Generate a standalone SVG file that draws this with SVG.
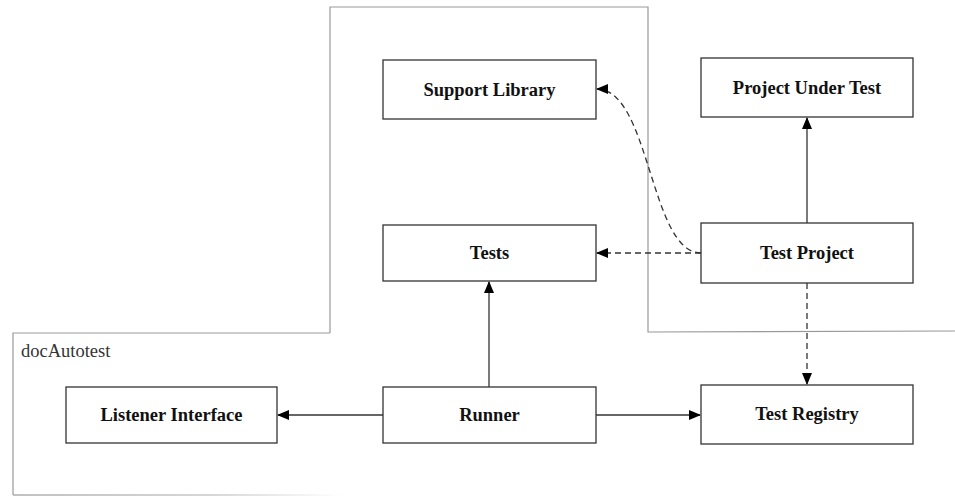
<svg xmlns="http://www.w3.org/2000/svg" width="955" height="496" viewBox="0 0 955 496">
<style>
.box{fill:#fff;stroke:#333;stroke-width:1.3}
.lbl{font-family:"Liberation Serif","Times New Roman",serif;font-weight:bold;font-size:18.5px;fill:#111;text-anchor:middle}
.edge{fill:none;stroke:#333;stroke-width:1.3}
.dash{stroke-dasharray:6,4}
.cl{fill:none;stroke:#999;stroke-width:1.2}
</style>
<defs>
<marker id="ah" markerWidth="12" markerHeight="10" refX="11" refY="5" orient="auto" markerUnits="userSpaceOnUse">
<path d="M0,0 L12,5 L0,10 Z" fill="#000"/>
</marker>
<linearGradient id="fade" x1="0" y1="0" x2="1" y2="0">
<stop offset="0" stop-color="#999"/>
<stop offset="0.6" stop-color="#bbb"/>
<stop offset="1" stop-color="#fff"/>
</linearGradient>
</defs>
<g id="cluster">
<polyline class="cl" points="330,333 330,7 648,7 648,332 955,331"/>
<polyline class="cl" points="330,333 13,333 13,495"/>
<rect x="13" y="494.4" width="330" height="1.2" fill="url(#fade)"/>
<text x="21" y="357" font-family="Liberation Serif, Times New Roman, serif" font-size="18.5" fill="#333">docAutotest</text>
</g>
<g id="connectors">
<line class="edge" x1="807" y1="223" x2="807" y2="118" marker-end="url(#ah)"/>
<line class="edge dash" x1="701" y1="253" x2="597" y2="253" marker-end="url(#ah)"/>
<path class="edge dash" d="M701,253 C650,253 650,89 597,89" marker-end="url(#ah)"/>
<line class="edge dash" x1="807" y1="283" x2="807" y2="384" marker-end="url(#ah)"/>
<line class="edge" x1="489" y1="387" x2="489" y2="282" marker-end="url(#ah)"/>
<line class="edge" x1="383" y1="415" x2="278" y2="415" marker-end="url(#ah)"/>
<line class="edge" x1="596" y1="415" x2="700" y2="415" marker-end="url(#ah)"/>
</g>
<g id="support-library"><rect class="box" x="383" y="60" width="213" height="59"/><text class="lbl" x="489.5" y="95.5">Support Library</text></g>
<g id="project-under-test"><rect class="box" x="701" y="58" width="212" height="59"/><text class="lbl" x="807" y="93.5">Project Under Test</text></g>
<g id="tests"><rect class="box" x="383" y="225" width="213" height="56"/><text class="lbl" x="489.5" y="259">Tests</text></g>
<g id="test-project"><rect class="box" x="701" y="223" width="212" height="60"/><text class="lbl" x="807" y="259">Test Project</text></g>
<g id="listener-interface"><rect class="box" x="66" y="387" width="211" height="56"/><text class="lbl" x="171.5" y="421">Listener Interface</text></g>
<g id="runner"><rect class="box" x="383" y="387" width="213" height="56"/><text class="lbl" x="489.5" y="421">Runner</text></g>
<g id="test-registry"><rect class="box" x="701" y="385" width="212" height="59"/><text class="lbl" x="807" y="420">Test Registry</text></g>
</svg>
